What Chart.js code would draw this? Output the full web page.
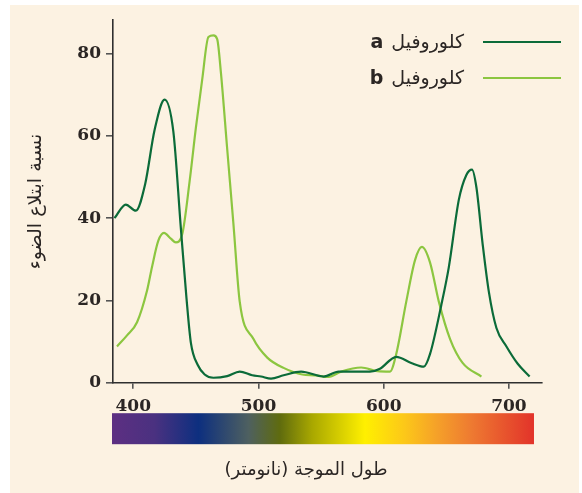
<!DOCTYPE html>
<html>
<head>
<meta charset="utf-8">
<script src="https://cdn.jsdelivr.net/npm/chart.js@4.4.1/dist/chart.umd.min.js"></script>
<style>
  html, body { margin: 0; padding: 0; background: #ffffff; }
  #panel { position: absolute; left: 10px; top: 5px; width: 569px; height: 488px; background: #fcf2e2; }
  #c { display: block; }
</style>
</head>
<body>
<div id="panel"><canvas id="c" width="569" height="488"></canvas></div>
<script>
// ---- data ----
const SERIES_NAMES = ['كلوروفيل', 'كلوروفيل'];
const SERIES_LETTERS = ['a', 'b'];
const X_TITLE = 'طول الموجة (نانومتر)';
const Y_TITLE = 'نسبة ابتلاع الضوء';
const X_TICKS = [400, 500, 600, 700];
const Y_TICKS = [0, 20, 40, 60, 80];

const A_WL  = [385, 394, 402, 409.5, 417, 425, 432, 438, 442.5, 446, 451.5, 457, 464, 475, 485, 495, 502, 510, 520, 534, 552, 564, 589, 597, 610, 622, 632, 637, 646, 652, 660, 666, 670.5, 674, 679, 684, 690, 698, 707, 716.5];
const A_VAL = [40, 43.3, 41.8, 48.3, 61.4, 68.8, 61, 37.5, 20.5, 9.7, 4.3, 2.0, 1.2, 1.6, 2.7, 1.8, 1.5, 1.0, 1.8, 2.7, 1.5, 2.7, 2.7, 3.4, 6.3, 4.8, 3.9, 7, 18.9, 28.1, 44.5, 50.5, 51.8, 47.5, 33.7, 22, 13.3, 8.8, 4.6, 1.5];

const B_WL  = [387, 395, 403, 411, 415, 420, 424.5, 430, 434, 439, 445, 450, 455, 460, 464, 467, 470, 475, 480, 485, 496, 507, 520, 535, 545, 556, 566, 582, 595, 605, 610, 618, 625, 630.5, 637, 644, 653, 663, 678];
const B_VAL = [8.8, 11.5, 14.7, 22.4, 28.2, 34.5, 36.4, 35, 34.1, 36, 49, 62, 73.6, 84, 84.4, 83.5, 75.3, 56.8, 38.5, 19.7, 10.6, 6.1, 3.6, 2.0, 1.8, 1.4, 2.7, 3.7, 2.8, 2.7, 7, 19.7, 29.8, 33, 29.2, 19.7, 10.6, 4.8, 1.5];

// spectrum bar: wavelength stops and colours
const SPECTRUM_WL  = [383, 417, 452, 492, 517, 543, 585, 617, 643, 670, 720];
const SPECTRUM_COL = ['#5d2f82', '#4a3180', '#0d2f7f', '#4e6060', '#5f6b0e', '#a9a800', '#fff000', '#fcc719', '#f5a029', '#ee7a31', '#e2332a'];

const COL_A = '#0b6b39';
const COL_B = '#8cc640';
const INK = '#2b2624';

const toXY = (xs, ys) => xs.map((x, i) => ({ x: x, y: ys[i] }));

const decor = {
  id: 'decor',
  afterDraw(chart) {
    const ctx = chart.ctx;
    const xs = chart.scales.x;
    const ca = chart.chartArea;
    // spectrum bar
    const x0 = xs.getPixelForValue(SPECTRUM_WL[0]);
    const x1 = xs.getPixelForValue(SPECTRUM_WL[SPECTRUM_WL.length - 1]);
    const g = ctx.createLinearGradient(x0, 0, x1, 0);
    SPECTRUM_WL.forEach((w, i) => {
      const t = Math.min(1, Math.max(0, (xs.getPixelForValue(w) - x0) / (x1 - x0)));
      g.addColorStop(t, SPECTRUM_COL[i]);
    });
    ctx.save();
    ctx.fillStyle = g;
    ctx.fillRect(x0, ca.bottom + 30.5, x1 - x0, 31);
    // x title
    ctx.fillStyle = INK;
    ctx.font = '18px "DejaVu Sans"';
    ctx.textAlign = 'center';
    ctx.textBaseline = 'middle';
    ctx.direction = 'rtl';
    ctx.fillText(X_TITLE, 296, ca.bottom + 88);
    // legend
    const rows = [{ y: 37, c: COL_A }, { y: 73, c: COL_B }];
    rows.forEach((r, i) => {
      ctx.strokeStyle = r.c;
      ctx.lineWidth = 2.2;
      ctx.beginPath();
      ctx.moveTo(473, r.y);
      ctx.lineTo(551, r.y);
      ctx.stroke();
      ctx.fillStyle = INK;
      ctx.direction = 'rtl';
      ctx.textAlign = 'right';
      ctx.font = '19px "DejaVu Sans"';
      ctx.fillText(SERIES_NAMES[i], 454, r.y + 1);
      const w = ctx.measureText(SERIES_NAMES[i]).width;
      ctx.direction = 'ltr';
      ctx.font = 'bold 19px "DejaVu Sans"';
      ctx.fillText(SERIES_LETTERS[i], 454 - w - 8, r.y + 1);
    });
    ctx.restore();
  }
};

new Chart(document.getElementById('c'), {
  type: 'line',
  data: {
    datasets: [
      { label: SERIES_NAMES[0] + ' ' + SERIES_LETTERS[0], data: toXY(A_WL, A_VAL), borderColor: COL_A, borderWidth: 2.2, pointRadius: 0, cubicInterpolationMode: 'monotone', fill: false },
      { label: SERIES_NAMES[1] + ' ' + SERIES_LETTERS[1], data: toXY(B_WL, B_VAL), borderColor: COL_B, borderWidth: 2.2, pointRadius: 0, cubicInterpolationMode: 'monotone', fill: false }
    ]
  },
  options: {
    responsive: false,
    animation: false,
    layout: { padding: { left: 0, top: 15, right: 37, bottom: 0 } },
    plugins: { legend: { display: false }, tooltip: { enabled: false } },
    scales: {
      x: {
        type: 'linear', min: 383.8, max: 726.4,
        afterBuildTicks: s => { s.ticks = X_TICKS.map(v => ({ value: v })); },
        afterFit: s => { s.height = 110.3; },
        border: { display: true, color: '#2f2f2f', width: 1.6 },
        grid: { drawOnChartArea: false, drawTicks: true, tickLength: 6, color: '#555', lineWidth: 1.6 },
        ticks: { color: INK, padding: 8, maxRotation: 0, font: { family: '"DejaVu Serif"', weight: 'bold', size: 17 } }
      },
      y: {
        type: 'linear', min: 0, max: 88.1,
        afterBuildTicks: s => { s.ticks = Y_TICKS.map(v => ({ value: v })); },
        afterFit: s => { s.width = 103; },
        border: { display: true, color: '#2f2f2f', width: 1.6 },
        grid: { drawOnChartArea: false, drawTicks: true, tickLength: 7, color: '#555', lineWidth: 1.6 },
        ticks: { color: INK, padding: 5, font: { family: '"DejaVu Serif"', weight: 'bold', size: 17 } },
        title: { display: true, text: Y_TITLE, color: INK, padding: { top: 15, bottom: 0 }, font: { family: '"DejaVu Sans"', size: 19 } }
      }
    }
  },
  plugins: [decor]
});
</script>
</body>
</html>
